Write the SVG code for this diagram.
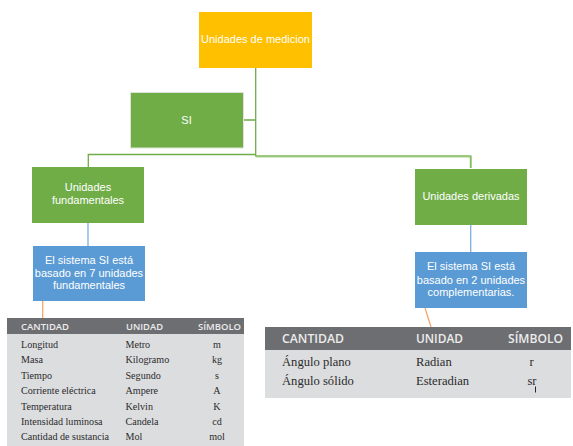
<svg xmlns="http://www.w3.org/2000/svg" width="573" height="446" viewBox="0 0 573 446">
<style>
.nt{font-family:"Liberation Sans",Arial,sans-serif;font-size:11px;fill:#ffffff;text-anchor:middle}
.hd{font-family:"Open Sans","Liberation Sans",Arial,sans-serif;font-weight:600;fill:#ececec}
.bd{font-family:"Liberation Serif","Times New Roman",serif;fill:#2b2b2b}
.g{stroke:#70AD47;stroke-width:1.3;fill:none}
.b{stroke:#7FAEE0;stroke-width:1.3;fill:none}
.o{stroke:#F4A66E;stroke-width:1.3;fill:none}
</style>
<rect width="573" height="446" fill="#ffffff"/>
<g id="connectors">
<path class="g" d="M255.7 68 V156.5 M243 120 H255.7 M255.7 154.5 H88.3 V167"/>
<path d="M255.7 156.5 H471 V168" stroke="#A9D18E" stroke-width="2" fill="none"/>
<path d="M255.7 155.8 H470.3 V168" stroke="#70AD47" stroke-width="0.8" fill="none"/>
<path class="b" d="M88 223 V246"/>
<path class="b" d="M470.7 225 V252"/>
<path class="o" d="M42.7 301 V318"/>
<path class="o" d="M425 308 L431 327"/>
</g>
<g id="n-medicion">
<rect x="199" y="12" width="113" height="56" fill="#FFC000"/>
<text class="nt" x="255.5" y="43">Unidades de medicion</text>
</g>
<g id="n-si">
<rect x="130.5" y="92.5" width="113" height="55.5" fill="#70AD47" stroke="#dfe3dc" stroke-width="1"/>
<text class="nt" x="186.5" y="123.5">SI</text>
</g>
<g id="n-fund">
<rect x="32" y="167" width="112" height="56" fill="#70AD47"/>
<text class="nt" x="88" y="191">Unidades</text>
<text class="nt" x="88" y="204">fundamentales</text>
</g>
<g id="n-deriv">
<rect x="415" y="169" width="112" height="56" fill="#70AD47"/>
<text class="nt" x="471" y="200">Unidades derivadas</text>
</g>
<g id="n-fund-desc">
<rect x="33" y="246" width="112" height="55" fill="#5B9BD5"/>
<text class="nt" x="89" y="263.5">El sistema SI está</text>
<text class="nt" x="89" y="276.5">basado en 7 unidades</text>
<text class="nt" x="89" y="289">fundamentales</text>
</g>
<g id="n-deriv-desc">
<rect x="415" y="252" width="112" height="56" fill="#5B9BD5"/>
<text class="nt" x="471" y="270">El sistema SI está</text>
<text class="nt" x="471" y="283.5">basado en 2 unidades</text>
<text class="nt" x="471" y="296">complementarias.</text>
</g>
<g id="table-fundamentales">
<rect x="7" y="318" width="237" height="16" fill="#6D6E71"/>
<rect x="7" y="334" width="237" height="112" fill="#DCDDDF"/>
<g class="hd" font-size="8.8">
<text x="21" y="330" textLength="48" lengthAdjust="spacingAndGlyphs">CANTIDAD</text>
<text x="126" y="330" textLength="37" lengthAdjust="spacingAndGlyphs">UNIDAD</text>
<text x="198" y="330" textLength="43" lengthAdjust="spacingAndGlyphs">SÍMBOLO</text>
</g>
<g class="bd" font-size="10.1">
<text x="21" y="347.5">Longitud</text>
<text x="21" y="363">Masa</text>
<text x="21" y="378.5">Tiempo</text>
<text x="21" y="394">Corriente eléctrica</text>
<text x="21" y="409.5">Temperatura</text>
<text x="21" y="425">Intensidad luminosa</text>
<text x="21" y="440">Cantidad de sustancia</text>
<text x="125.5" y="347.5">Metro</text>
<text x="125.5" y="363">Kilogramo</text>
<text x="125.5" y="378.5">Segundo</text>
<text x="125.5" y="394">Ampere</text>
<text x="125.5" y="409.5">Kelvin</text>
<text x="125.5" y="425">Candela</text>
<text x="125.5" y="440">Mol</text>
<g text-anchor="middle">
<text x="217" y="347.5">m</text>
<text x="217" y="363">kg</text>
<text x="217" y="378.5">s</text>
<text x="217" y="394">A</text>
<text x="217" y="409.5">K</text>
<text x="217" y="425">cd</text>
<text x="217" y="440">mol</text>
</g>
</g>
</g>
<g id="table-derivadas">
<rect x="265" y="327" width="306" height="23" fill="#6D6E71"/>
<rect x="265" y="350" width="306" height="48" fill="#DCDDDF"/>
<g class="hd" font-size="12">
<text x="282" y="342.5" textLength="62" lengthAdjust="spacingAndGlyphs">CANTIDAD</text>
<text x="416" y="342.5" textLength="47" lengthAdjust="spacingAndGlyphs">UNIDAD</text>
<text x="508" y="342.5" textLength="55" lengthAdjust="spacingAndGlyphs">SÍMBOLO</text>
</g>
<g class="bd" font-size="12.6">
<text x="282" y="365.5">Ángulo plano</text>
<text x="282" y="385">Ángulo sólido</text>
<text x="416" y="365.5">Radian</text>
<text x="416" y="385">Esteradian</text>
<text x="531.5" y="365.5" text-anchor="middle">r</text>
<text x="532" y="385" text-anchor="middle">sr</text>
</g>
<line x1="535.5" y1="386.5" x2="535.5" y2="392.5" stroke="#111" stroke-width="0.9"/>
</g>
</svg>
